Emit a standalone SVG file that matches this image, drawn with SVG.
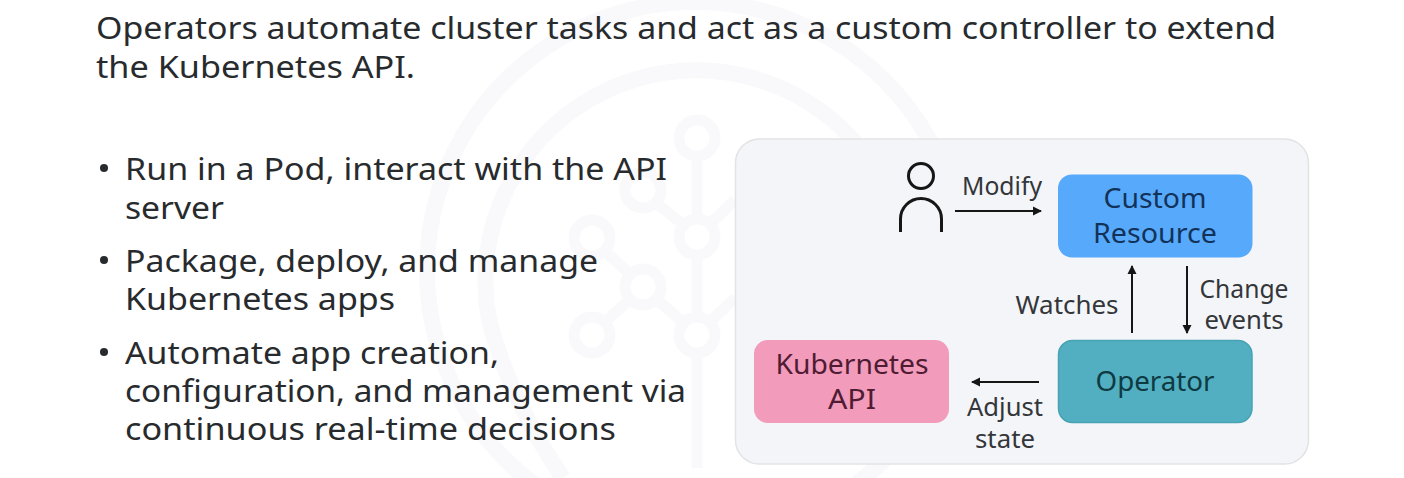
<svg xmlns="http://www.w3.org/2000/svg" width="1404" height="478" viewBox="0 0 1404 478">
<defs>
<marker id="ah" markerUnits="userSpaceOnUse" markerWidth="11" markerHeight="11" refX="8" refY="5" orient="auto"><path d="M0 0.500L9 5L0 9.500Z" fill="#161616"/></marker>
</defs>
<style>
text{font-family:"Noto Sans","Liberation Sans",sans-serif;fill:#282b2e}
.h{font-size:31px}
.b{font-size:31px}
.n{font-size:27px;text-anchor:middle}
.l{font-size:24.500px;text-anchor:middle;fill:#33363a}
.c{fill:none;stroke:#161616;stroke-width:2}
.w{fill:none;stroke:#f9f9fb;stroke-width:11}
.r{stroke-width:16}
</style>
<rect width="1404" height="478" fill="#fff"/>
<g id="watermark" class="w">
<circle class="r" cx="695" cy="270" r="268"/>
<path class="r" d="M563 478Q510 400 489 320A211 211 0 0 1 895 210"/>
<circle cx="697" cy="138" r="18"/>
<circle cx="643" cy="190" r="18"/>
<circle cx="697" cy="237" r="18"/>
<circle cx="592" cy="238" r="18"/>
<circle cx="643" cy="287" r="18"/>
<circle cx="592" cy="335" r="18"/>
<circle cx="697" cy="335" r="18"/>
<path d="M697 156V219M697 255V317M697 353V468M656 203L684 225M710 224L735 200M605 251L630 274M656 299L684 323M605 322L630 299M710 322L735 298"/>
</g>
<g id="heading">
<text class="h" x="96" y="39" textLength="1180" lengthAdjust="spacingAndGlyphs">Operators automate cluster tasks and act as a custom controller to extend</text>
<text class="h" x="96" y="78" textLength="319" lengthAdjust="spacingAndGlyphs">the Kubernetes API.</text>
</g>
<g id="bullets">
<circle cx="104" cy="168" r="4" fill="#282b2e"/>
<circle cx="104" cy="260" r="4" fill="#282b2e"/>
<circle cx="104" cy="352" r="4" fill="#282b2e"/>
<text class="b" x="125" y="180" textLength="542" lengthAdjust="spacingAndGlyphs">Run in a Pod, interact with the API</text>
<text class="b" x="125" y="219" textLength="99" lengthAdjust="spacingAndGlyphs">server</text>
<text class="b" x="125" y="272" textLength="473" lengthAdjust="spacingAndGlyphs">Package, deploy, and manage</text>
<text class="b" x="125" y="310" textLength="270" lengthAdjust="spacingAndGlyphs">Kubernetes apps</text>
<text class="b" x="125" y="364" textLength="374" lengthAdjust="spacingAndGlyphs">Automate app creation,</text>
<text class="b" x="125" y="402" textLength="561" lengthAdjust="spacingAndGlyphs">configuration, and management via</text>
<text class="b" x="125" y="440" textLength="491" lengthAdjust="spacingAndGlyphs">continuous real-time decisions</text>
</g>
<g id="panel">
<rect x="735.500" y="139" width="573" height="325" rx="24" fill="#f4f5f9" stroke="#e2e3e5" stroke-width="1.500"/>
</g>
<g id="person" fill="none" stroke="#161616" stroke-width="3">
<circle cx="921" cy="176" r="12.500"/>
<path d="M900.500 232V219A20.500 20.500 0 0 1 941.500 219V232"/>
</g>
<g id="custom-resource">
<rect x="1058" y="174.500" width="194.500" height="83" rx="14" fill="#57aafb"/>
<text class="n" x="1155" y="208" style="fill:#12325a" textLength="103" lengthAdjust="spacingAndGlyphs">Custom</text>
<text class="n" x="1155" y="243" style="fill:#12325a" textLength="124" lengthAdjust="spacingAndGlyphs">Resource</text>
</g>
<g id="operator">
<rect x="1058.500" y="340.500" width="193.500" height="82" rx="14" fill="#51afc1" stroke="#47a3b4" stroke-width="1.500"/>
<text class="n" x="1155" y="391" style="fill:#0f3a42" textLength="119" lengthAdjust="spacingAndGlyphs">Operator</text>
</g>
<g id="kubernetes-api">
<rect x="754" y="340" width="195" height="83" rx="14" fill="#f29bbb"/>
<text class="n" x="852" y="374" style="fill:#4f1c33" textLength="153" lengthAdjust="spacingAndGlyphs">Kubernetes</text>
<text class="n" x="852" y="409" style="fill:#4f1c33" textLength="48" lengthAdjust="spacingAndGlyphs">API</text>
</g>
<g id="connectors">
<line class="c" x1="955" y1="211" x2="1041" y2="211" marker-end="url(#ah)"/>
<line class="c" x1="1132" y1="333" x2="1132" y2="266" marker-end="url(#ah)"/>
<line class="c" x1="1187" y1="266" x2="1187" y2="333" marker-end="url(#ah)"/>
<line class="c" x1="1039" y1="382" x2="972" y2="382" marker-end="url(#ah)"/>
</g>
<g id="labels">
<text class="l" x="1002" y="195" textLength="80" lengthAdjust="spacingAndGlyphs">Modify</text>
<text class="l" x="1067" y="314" textLength="103" lengthAdjust="spacingAndGlyphs">Watches</text>
<text class="l" x="1244" y="298" textLength="89" lengthAdjust="spacingAndGlyphs">Change</text>
<text class="l" x="1244" y="329" textLength="79" lengthAdjust="spacingAndGlyphs">events</text>
<text class="l" x="1005" y="416" textLength="76" lengthAdjust="spacingAndGlyphs">Adjust</text>
<text class="l" x="1005" y="448" textLength="60" lengthAdjust="spacingAndGlyphs">state</text>
</g>
</svg>
